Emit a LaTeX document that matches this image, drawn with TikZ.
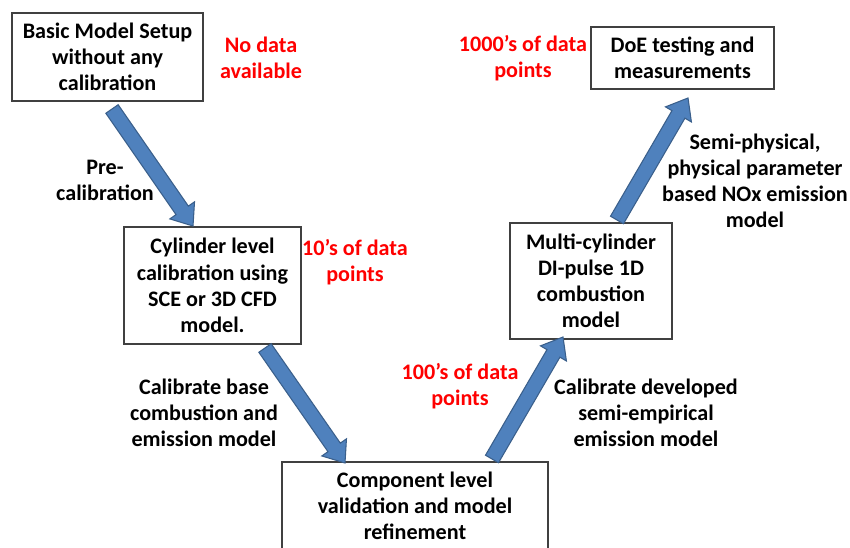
\documentclass[tikz,border=0pt]{standalone}
\usepackage{fontspec}
\setmainfont{Carlito}
\usetikzlibrary{calc}
\definecolor{arrfill}{HTML}{4F81BD}
\definecolor{arrline}{HTML}{3A5F8B}
\definecolor{boxline}{HTML}{404040}
\definecolor{datared}{HTML}{FF0000}
\tikzset{
  txt/.style={align=center, inner sep=0pt, font=\fontsize{16.6}{19.6}\selectfont\bfseries},
  box/.style={txt, draw=boxline, line width=0.8pt, fill=white},
  lbl/.style={txt, text=black},
  datalbl/.style={txt, text=datared},
  blockarr/.style={fill=arrfill, draw=arrline, line width=0.8pt, line join=miter}
}
% #1 tail coordinate, #2 tip coordinate
\newcommand\blockarrow[2]{%
  \coordinate (ba-s) at ($(#2)!14.25pt!(#1)$);
  \draw[blockarr]
    ($(#1)!5.625pt!90:(#2)$) --
    ($(ba-s)!5.625pt!-90:(#1)$) --
    ($(ba-s)!11.25pt!-90:(#1)$) --
    (#2) --
    ($(ba-s)!11.25pt!90:(#1)$) --
    ($(ba-s)!5.625pt!90:(#1)$) --
    ($(#1)!5.625pt!-90:(#2)$) -- cycle;
}
\begin{document}
\begin{tikzpicture}[x=0.75pt,y=-0.75pt]
\useasboundingbox (0,0) rectangle (850,548);
\fill[white] (0,0) rectangle (850,548);

% boxes
\node[box, minimum width=191*0.75pt, minimum height=88*0.75pt] (basic) at (107.5,57)
  {Basic Model Setup\\without any\\calibration};
\node[box, minimum width=177*0.75pt, minimum height=117*0.75pt] (cyl) at (212.5,285.5)
  {Cylinder level\\calibration using\\SCE or 3D CFD\\model.};
\node[box, minimum width=266*0.75pt, minimum height=88*0.75pt] (comp) at (415,506)
  {Component level\\validation and model\\refinement};
\node[box, minimum width=162*0.75pt, minimum height=116*0.75pt] (multi) at (591,281)
  {Multi-cylinder\\DI-pulse 1D\\combustion\\model};
\node[box, minimum width=183*0.75pt, minimum height=62*0.75pt] (doe) at (682.5,58)
  {DoE testing and\\measurements};

% arrow end points
\coordinate (a1t) at (112,109);
\coordinate (a1h) at (193,226);
\coordinate (a2t) at (265,348);
\coordinate (a2h) at (345,463);
\coordinate (a3t) at (492,459);
\coordinate (a3h) at (563,337);
\coordinate (a4t) at (617,220);
\coordinate (a4h) at (688,98);

\blockarrow{a1t}{a1h}
\blockarrow{a2t}{a2h}
\blockarrow{a3t}{a3h}
\blockarrow{a4t}{a4h}

% labels
\node[datalbl] (nodata) at (261,58) {No data\\available};
\node[lbl] (precal) at (105,180) {Pre-\\calibration};
\node[datalbl] (tens) at (355,262) {10’s of data\\points};
\node[lbl] (calbase) at (204,413) {Calibrate base\\combustion and\\emission model};
\node[datalbl] (hundreds) at (460,386) {100’s of data\\points};
\node[lbl] (caldev) at (646,413) {Calibrate developed\\semi-empirical\\emission model};
\node[datalbl] (thousands) at (523,58) {1000’s of data\\points};
\node[lbl] (semiphys) at (755,181) {Semi-physical,\\physical parameter\\based NOx emission\\model};
\end{tikzpicture}
\end{document}
